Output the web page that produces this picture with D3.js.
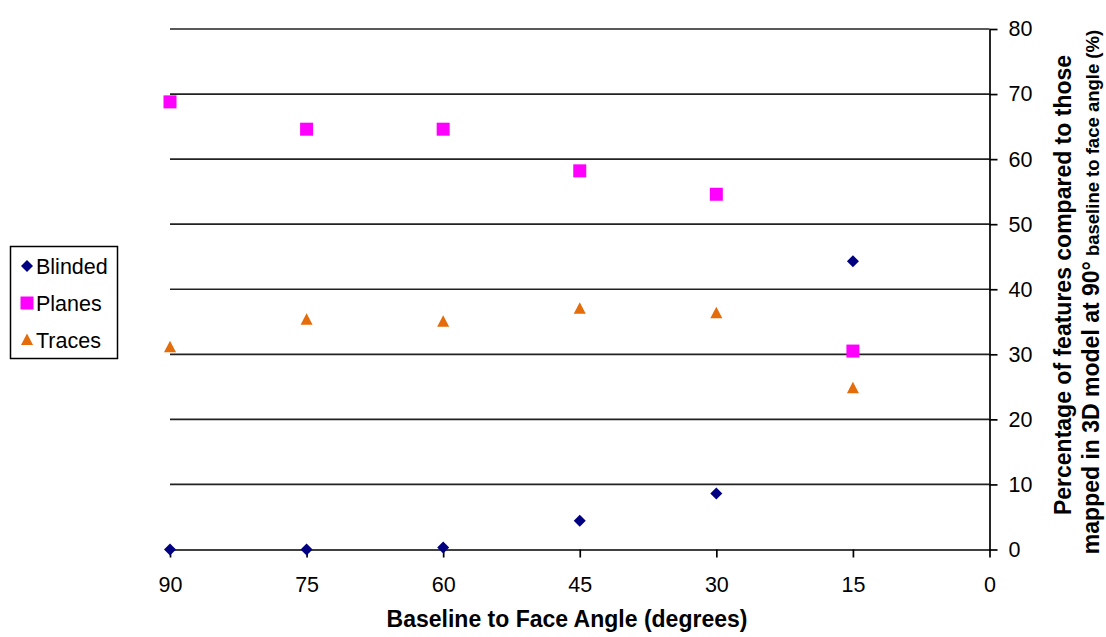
<!DOCTYPE html>
<html>
<head>
<meta charset="utf-8">
<script src="https://cdn.jsdelivr.net/npm/d3@7"></script>
<style>
  html, body { margin: 0; padding: 0; background: #fff; }
  svg { display: block; font-family: "Liberation Sans", Arial, sans-serif; }
</style>
</head>
<body>
<svg id="chart" width="1106" height="637"></svg>
<script>
// Baseline-to-face angles (degrees) at which features were mapped
const angles = [90, 75, 60, 45, 30, 15];
// Percentage of features relative to the 90° model, per method
const blinded = [0, 0, 0.3, 4.4, 8.6, 44.3];
const planes  = [68.8, 64.6, 64.6, 58.2, 54.6, 30.5];
const traces  = [31.1, 35.3, 35.0, 37.0, 36.3, 24.8];
const xTicks = [90, 75, 60, 45, 30, 15, 0];
const yTicks = [0, 10, 20, 30, 40, 50, 60, 70, 80];
const seriesNames = ["Blinded", "Planes", "Traces"];

const series = [
  { name: seriesNames[0], values: blinded, color: "#000080", shape: "diamond" },
  { name: seriesNames[1], values: planes,  color: "#FF00FF", shape: "square" },
  { name: seriesNames[2], values: traces,  color: "#E46C0A", shape: "triangle" }
];

const svg = d3.select("#chart");
const plotLeft = 170, plotRight = 989.5, plotTop = 29, plotBottom = 549.5;

const x = d3.scaleLinear().domain([90, 0]).range([plotLeft, plotRight]);
const y = d3.scaleLinear().domain([0, 80]).range([plotBottom, plotTop]);

// Horizontal gridlines
svg.append("g").selectAll("line").data(yTicks.filter(d => d > 0)).join("line")
  .attr("x1", plotLeft).attr("x2", plotRight)
  .attr("y1", d => y(d)).attr("y2", d => y(d))
  .attr("stroke", "#222").attr("stroke-width", 1.7);

// Right-hand value axis
const yAxis = svg.append("g")
  .attr("transform", `translate(${plotRight},0)`)
  .call(d3.axisRight(y).tickValues(yTicks).tickSize(8).tickPadding(11).tickSizeOuter(0));
yAxis.select(".domain").attr("stroke", "#000").attr("stroke-width", 1.7);
yAxis.selectAll(".tick line").attr("stroke", "#000").attr("stroke-width", 1.7);
yAxis.selectAll("text").attr("font-size", 21.5).attr("fill", "#000")
  .attr("font-family", "Liberation Sans, Arial, sans-serif");

// Bottom angle axis
const xAxis = svg.append("g")
  .attr("transform", `translate(0,${plotBottom})`)
  .call(d3.axisBottom(x).tickValues(xTicks).tickSize(8).tickPadding(19).tickSizeOuter(0));
xAxis.select(".domain").attr("stroke", "#000").attr("stroke-width", 1.7);
xAxis.selectAll(".tick line").attr("stroke", "#000").attr("stroke-width", 1.7);
xAxis.selectAll("text").attr("font-size", 21.5).attr("fill", "#000")
  .attr("font-family", "Liberation Sans, Arial, sans-serif");

// Marker shapes
const shapePath = {
  diamond: "M0,-6L6,0L0,6L-6,0Z",
  square: "M-6.5,-6.5H6.5V6.5H-6.5Z",
  triangle: "M0,-6.5L6,5L-6,5Z"
};

series.forEach(s => {
  svg.append("g").selectAll("path")
    .data(angles.map((a, i) => ({ a, v: s.values[i] })))
    .join("path")
    .attr("d", shapePath[s.shape])
    .attr("transform", d => `translate(${x(d.a)},${y(d.v)})`)
    .attr("fill", s.color);
});

// Legend
const legend = svg.append("g");
legend.append("rect")
  .attr("x", 10.5).attr("y", 246.5).attr("width", 107).attr("height", 112)
  .attr("fill", "#fff").attr("stroke", "#000").attr("stroke-width", 1.5);
series.forEach((s, i) => {
  const cy = 266 + i * 37;
  legend.append("path").attr("d", shapePath[s.shape])
    .attr("transform", `translate(27,${cy})`).attr("fill", s.color);
  legend.append("text").attr("x", 36).attr("y", cy + 7.5)
    .attr("font-size", 21.5).attr("fill", "#000").text(s.name);
});

// Axis titles
svg.append("text")
  .attr("x", 567).attr("y", 627).attr("text-anchor", "middle")
  .attr("font-size", 23).attr("font-weight", "bold").attr("fill", "#000")
  .text("Baseline to Face Angle (degrees)");

svg.append("text")
  .attr("transform", "translate(1071,285) rotate(-90)")
  .attr("text-anchor", "middle")
  .attr("font-size", 23).attr("font-weight", "bold").attr("fill", "#000")
  .text("Percentage of features compared to those");

const t2 = svg.append("text")
  .attr("transform", "translate(1099,292) rotate(-90)")
  .attr("text-anchor", "middle")
  .attr("font-weight", "bold").attr("fill", "#000");
t2.append("tspan").attr("font-size", 23).text("mapped in 3D model at 90°");
t2.append("tspan").attr("font-size", 18.5).text(" baseline to face angle (%)");
</script>
</body>
</html>
